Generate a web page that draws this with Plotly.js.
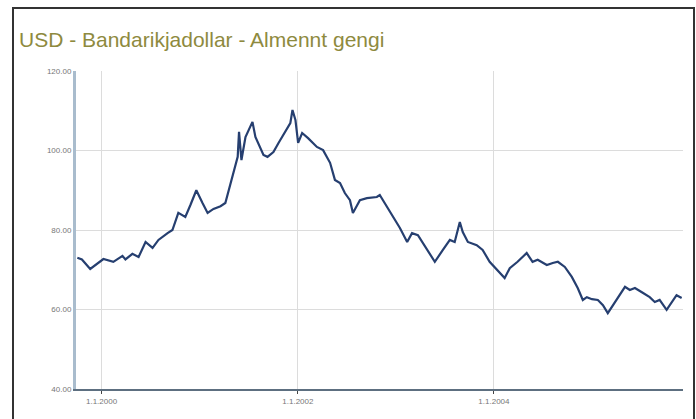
<!DOCTYPE html>
<html>
<head>
<meta charset="utf-8">
<script src="https://cdn.plot.ly/plotly-3.0.1.min.js"></script>
<style>
  html, body { margin: 0; padding: 0; background: #fff; }
  #chart { width: 696px; height: 419px; position: relative; }
  #frame { position: absolute; left: 12px; top: 7px; width: 679px; height: 430px;
           border: 2px solid #333; border-bottom: none; pointer-events: none; }
</style>
</head>
<body>
<div id="chart"></div>
<div id="frame"></div>
<script>
const titleText = "USD - Bandarikjadollar - Almennt gengi";

const dates = [
  "1999-10-03","1999-10-20","1999-11-20","1999-12-15","2000-01-08","2000-02-14","2000-03-19","2000-03-30",
  "2000-04-25","2000-05-18","2000-06-13","2000-07-09","2000-07-31","2000-09-03","2000-09-21",
  "2000-10-13","2000-11-08","2000-11-27","2000-12-19","2001-01-11","2001-01-30","2001-02-21",
  "2001-03-19","2001-04-06","2001-04-25","2001-05-06","2001-05-22","2001-05-27","2001-06-05",
  "2001-06-20","2001-07-16","2001-07-27","2001-08-26","2001-09-10","2001-10-02","2001-10-21",
  "2001-11-16","2001-12-04","2001-12-12","2001-12-23","2002-01-02","2002-01-17","2002-02-08",
  "2002-03-13","2002-04-05","2002-05-01","2002-05-19","2002-06-07","2002-06-25","2002-07-14",
  "2002-07-25","2002-08-20","2002-09-15","2002-10-22","2002-11-02","2002-11-28","2002-12-28",
  "2003-01-16","2003-02-12","2003-03-02","2003-03-24","2003-04-12","2003-05-26","2003-06-25",
  "2003-07-21","2003-08-08","2003-08-27","2003-09-07","2003-09-26","2003-10-29","2003-11-20",
  "2003-12-16","2004-01-11","2004-02-10","2004-02-29","2004-03-29","2004-05-02","2004-05-24",
  "2004-06-12","2004-07-16","2004-08-07","2004-08-26","2004-09-21","2004-10-17","2004-11-08",
  "2004-11-27","2004-12-12","2004-12-31","2005-01-22","2005-02-10","2005-02-28","2005-03-19",
  "2005-04-14","2005-05-03","2005-05-21","2005-06-09","2005-07-08","2005-08-03","2005-08-22",
  "2005-09-09","2005-10-05","2005-10-24","2005-11-11","2005-11-30"
];

const rates = [
  73.0, 72.6, 70.2, 71.5, 72.7, 72.0, 73.5, 72.6,
  74.0, 73.2, 77.0, 75.5, 77.5, 79.2, 80.0,
  84.3, 83.3, 86.3, 90.0, 86.8, 84.3, 85.3,
  86.0, 86.8, 91.5, 94.3, 98.4, 104.7, 97.6,
  103.4, 107.2, 103.4, 98.9, 98.4, 99.6, 101.9,
  104.7, 106.9, 110.2, 107.7, 101.9, 104.4, 103.1,
  100.9, 100.1, 96.9, 92.6, 91.8, 89.3, 87.5,
  84.3, 87.5, 88.0, 88.3, 88.8, 85.8, 82.5,
  80.5, 77.0, 79.2, 78.7, 76.7, 72.0, 75.0,
  77.5, 77.0, 82.0, 79.5, 77.0, 76.2, 75.0,
  72.0, 70.0, 67.9, 70.4, 72.0, 74.2, 72.0,
  72.5, 71.2, 71.7, 72.0, 70.7, 68.2, 65.4,
  62.4, 63.1, 62.6, 62.4, 61.1, 59.1, 61.1,
  63.6, 65.7, 64.9, 65.4, 64.2, 63.1, 61.9,
  62.4, 59.9, 61.9, 63.6, 62.9
];

const xTickVals = ["2000-01-01", "2002-01-01", "2004-01-01"];
const xTickText = ["1.1.2000", "1.1.2002", "1.1.2004"];
const yTickVals = [40, 60, 80, 100, 120];

const trace = {
  x: dates, y: rates, type: "scatter", mode: "lines",
  line: { color: "#263f70", width: 2.2 },
  hoverinfo: "skip"
};

const layout = {
  width: 696, height: 419,
  margin: { l: 76, r: 13, t: 71, b: 30 },
  paper_bgcolor: "#ffffff", plot_bgcolor: "#ffffff",
  showlegend: false,
  title: {
    text: titleText, xref: "container", x: 19 / 696, xanchor: "left",
    yref: "container", y: 1 - 40 / 419, yanchor: "middle",
    font: { family: "Liberation Sans, Arial, sans-serif", size: 21, color: "#8e8a3e" }
  },
  xaxis: {
    type: "date",
    range: ["1999-09-28", "2005-12-05"],
    tickvals: xTickVals, ticktext: xTickText,
    showgrid: true, gridcolor: "#dcdcdc", gridwidth: 1,
    showline: true, linecolor: "#5d6f80", linewidth: 2,
    ticks: "outside", ticklen: 3, tickcolor: "#444", tickwidth: 1,
    tickfont: { family: "Liberation Sans, Arial, sans-serif", size: 8, color: "#777" },
    zeroline: false, fixedrange: true
  },
  yaxis: {
    range: [40, 120],
    tickvals: yTickVals, tickformat: ".2f",
    showgrid: true, gridcolor: "#dcdcdc", gridwidth: 1,
    showline: true, linecolor: "#a9bccd", linewidth: 3,
    ticks: "", ticklen: 0,
    tickfont: { family: "Liberation Sans, Arial, sans-serif", size: 8, color: "#777" },
    zeroline: false, fixedrange: true
  }
};

Plotly.newPlot("chart", [trace], layout, { displayModeBar: false, staticPlot: true });
</script>
</body>
</html>
